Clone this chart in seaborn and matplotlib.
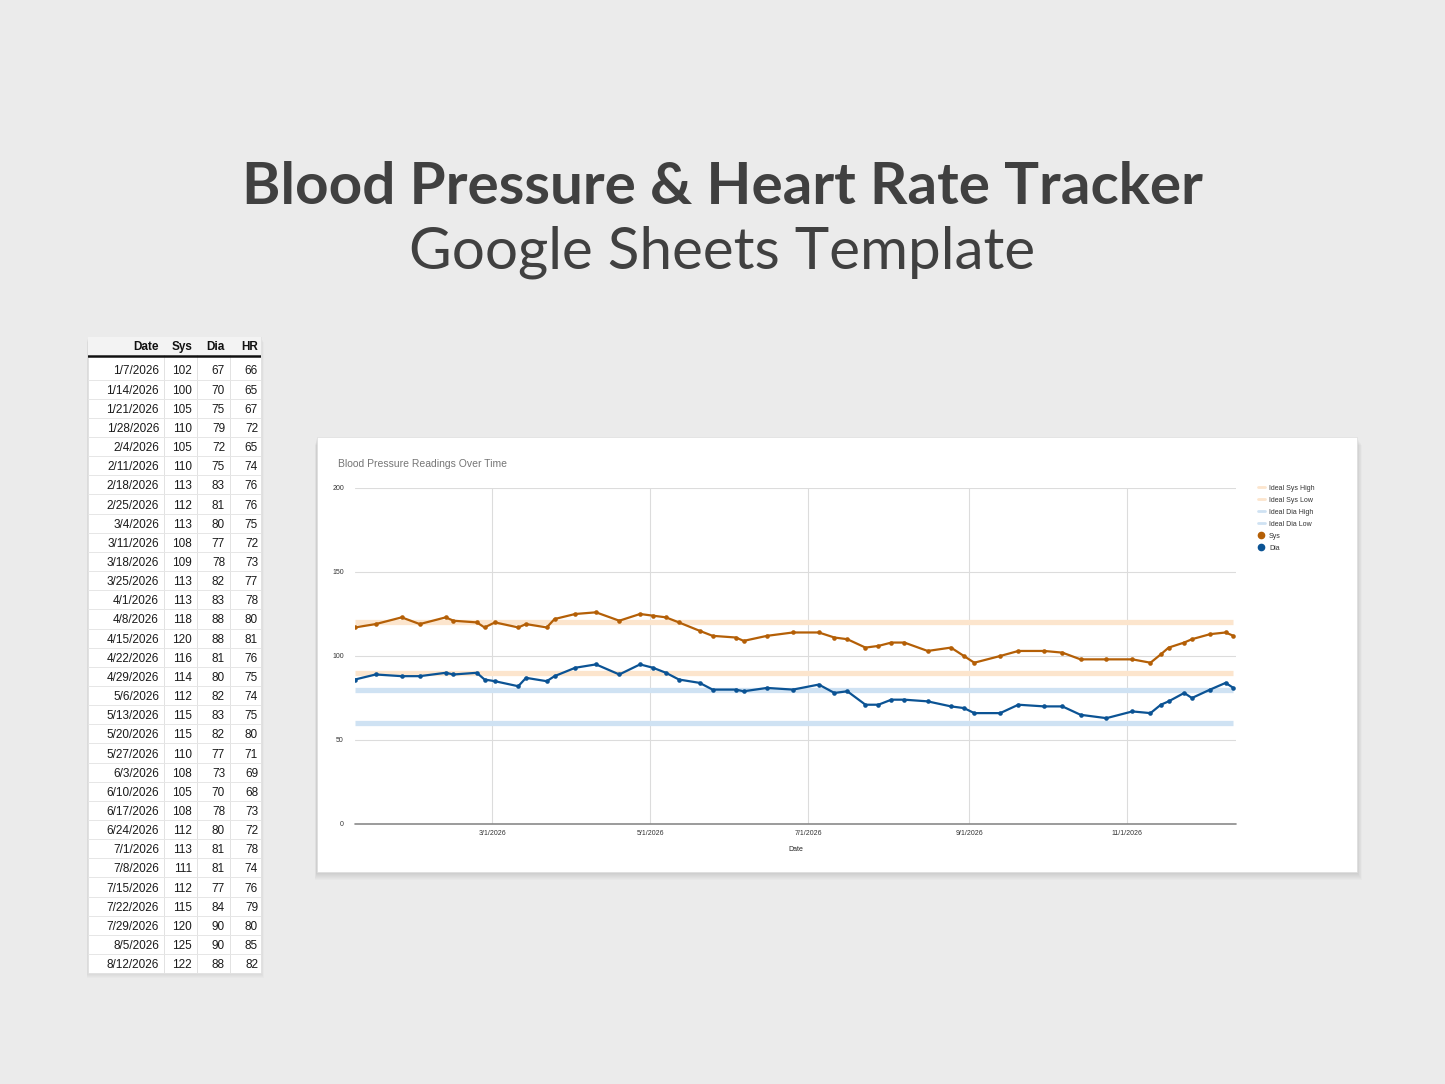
import numpy as np
import pandas as pd
import matplotlib
matplotlib.use("Agg")
import matplotlib.pyplot as plt
from matplotlib.patches import Rectangle
from matplotlib.lines import Line2D
import seaborn as sns

# chart readings
dates = ["2026-01-07", "2026-01-15", "2026-01-25", "2026-02-01", "2026-02-11", "2026-02-14",
         "2026-02-23", "2026-02-26", "2026-03-02", "2026-03-11", "2026-03-14", "2026-03-22",
         "2026-03-25", "2026-04-02", "2026-04-10", "2026-04-19", "2026-04-27", "2026-05-02",
         "2026-05-07", "2026-05-12", "2026-05-20", "2026-05-25", "2026-06-03", "2026-06-06",
         "2026-06-15", "2026-06-25", "2026-07-05", "2026-07-11", "2026-07-16", "2026-07-23",
         "2026-07-28", "2026-08-02", "2026-08-07", "2026-08-16", "2026-08-25", "2026-08-30",
         "2026-09-03", "2026-09-13", "2026-09-20", "2026-09-30", "2026-10-07", "2026-10-14",
         "2026-10-24", "2026-11-03", "2026-11-10", "2026-11-14", "2026-11-17", "2026-11-23",
         "2026-11-26", "2026-12-03", "2026-12-09", "2026-12-12"]
sys_vals = [117, 119, 123, 119, 123, 121, 120, 117, 120, 117, 119, 117,
            122, 125, 126, 121, 125, 124, 123, 120, 115, 112, 111, 109,
            112, 114, 114, 111, 110, 105, 106, 108, 108, 103, 105, 100,
            96, 100, 103, 103, 102, 98, 98, 98, 96, 101, 105, 108,
            110, 113, 114, 112]
dia_vals = [86, 89, 88, 88, 90, 89, 90, 86, 85, 82, 87, 85,
            88, 93, 95, 89, 95, 93, 90, 86, 84, 80, 80, 79,
            81, 80, 83, 78, 79, 71, 71, 74, 74, 73, 70, 69,
            66, 66, 71, 70, 70, 65, 63, 67, 66, 71, 73, 78,
            75, 80, 84, 81]
ideal_sys_high = 120
ideal_sys_low = 90
ideal_dia_high = 80
ideal_dia_low = 60

x_ticks = ["2026-03-01", "2026-05-01", "2026-07-01", "2026-09-01", "2026-11-01"]
x_tick_labels = ["3/1/2026", "5/1/2026", "7/1/2026", "9/1/2026", "11/1/2026"]
y_ticks = [0, 50, 100, 150, 200]

# spreadsheet table
tbl_dates = ["1/7/2026", "1/14/2026", "1/21/2026", "1/28/2026", "2/4/2026", "2/11/2026",
             "2/18/2026", "2/25/2026", "3/4/2026", "3/11/2026", "3/18/2026", "3/25/2026",
             "4/1/2026", "4/8/2026", "4/15/2026", "4/22/2026", "4/29/2026", "5/6/2026",
             "5/13/2026", "5/20/2026", "5/27/2026", "6/3/2026", "6/10/2026", "6/17/2026",
             "6/24/2026", "7/1/2026", "7/8/2026", "7/15/2026", "7/22/2026", "7/29/2026",
             "8/5/2026", "8/12/2026"]
tbl_sys = [102, 100, 105, 110, 105, 110, 113, 112, 113, 108, 109, 113, 113, 118, 120, 116,
           114, 112, 115, 115, 110, 108, 105, 108, 112, 113, 111, 112, 115, 120, 125, 122]
tbl_dia = [67, 70, 75, 79, 72, 75, 83, 81, 80, 77, 78, 82, 83, 88, 88, 81,
           80, 82, 83, 82, 77, 73, 70, 78, 80, 81, 81, 77, 84, 90, 90, 88]
tbl_hr = [66, 65, 67, 72, 65, 74, 76, 76, 75, 72, 73, 77, 78, 80, 81, 76,
          75, 74, 75, 80, 71, 69, 68, 73, 72, 78, 74, 76, 79, 80, 85, 82]
tbl_header = ["Date", "Sys", "Dia", "HR"]

SYS_C = "#b45f06"
DIA_C = "#0b5394"
SYS_IDEAL_C = "#fce5cd"
DIA_IDEAL_C = "#cfe2f3"
BG = "#ebebeb"

W, H = 1445, 1084

sns.set_theme(style="white")
plt.rcParams["font.family"] = ["Liberation Sans", "DejaVu Sans"]

fig = plt.figure(figsize=(W / 100, H / 100), dpi=100, facecolor=BG)


def fx(x):
    return x / W


def fy(y):
    return 1 - y / H


def card(x0, y0, x1, y1, shadow=8):
    # soft shadow then white card, in pixel coords of the picture
    for k in range(shadow, 0, -1):
        fig.patches.append(Rectangle((fx(x0 - k * 0.3), fy(y1 + k)), fx(x1 - x0 + k * 0.9), (y1 - y0) / H,
                                     transform=fig.transFigure, facecolor="#000000",
                                     alpha=0.016, edgecolor="none", zorder=-3))
    fig.patches.append(Rectangle((fx(x0), fy(y1)), fx(x1 - x0), (y1 - y0) / H,
                                 transform=fig.transFigure, facecolor="white",
                                 edgecolor="#dddddd", linewidth=0.5, zorder=-2))


# headings
fig.text(0.5, fy(188), "Blood Pressure & Heart Rate Tracker", ha="center", va="center",
         fontsize=42, fontweight="bold", color="#404040", family=["Lato", "DejaVu Sans"])
fig.text(0.5, fy(252), "Google Sheets Template", ha="center", va="center",
         fontsize=42, fontweight="normal", color="#404040", family=["Lato", "DejaVu Sans"])

# ---- chart card ----
card(317, 437, 1357, 872)

df = pd.DataFrame({"Date": pd.to_datetime(dates), "Sys": sys_vals, "Dia": dia_vals})
df["Ideal Sys High"] = ideal_sys_high
df["Ideal Sys Low"] = ideal_sys_low
df["Ideal Dia High"] = ideal_dia_high
df["Ideal Dia Low"] = ideal_dia_low

ax = fig.add_axes([fx(355), fy(824), fx(1236 - 355), (824 - 488) / H])
ax.patch.set_alpha(0)
for col, c in [("Ideal Sys High", SYS_IDEAL_C), ("Ideal Sys Low", SYS_IDEAL_C),
               ("Ideal Dia High", DIA_IDEAL_C), ("Ideal Dia Low", DIA_IDEAL_C)]:
    sns.lineplot(data=df, x="Date", y=col, ax=ax, color=c, linewidth=3.8, zorder=2,
                 solid_capstyle="butt")
sns.lineplot(data=df, x="Date", y="Sys", ax=ax, color=SYS_C, linewidth=1.6,
             marker="o", markersize=3.3, markeredgewidth=0, zorder=4)
sns.lineplot(data=df, x="Date", y="Dia", ax=ax, color=DIA_C, linewidth=1.6,
             marker="o", markersize=3.3, markeredgewidth=0, zorder=4)

ax.set_ylim(0, 200)
ax.set_xlim(pd.Timestamp("2026-01-07"), pd.Timestamp("2026-12-13"))
ax.set_yticks(y_ticks)
ax.set_xticks(pd.to_datetime(x_ticks))
ax.set_xticklabels(x_tick_labels)
ax.grid(True, color="#dcdcdc", linewidth=0.8, zorder=0)
ax.set_axisbelow(True)
for s in ax.spines.values():
    s.set_visible(False)
ax.axhline(0, color="#8a8a8a", linewidth=1.2, zorder=3, clip_on=False)
ax.tick_params(axis="both", length=0, labelsize=5, labelcolor="#333333", pad=4)
ax.tick_params(axis="y", pad=8)
ax.set_xlabel("Date", fontsize=5, color="#222222", labelpad=7)
ax.set_ylabel("")

fig.text(fx(338), fy(464), "Blood Pressure Readings Over Time", ha="left", va="center",
         fontsize=7.5, color="#757575")

handles = [Line2D([], [], color=SYS_IDEAL_C, linewidth=2),
           Line2D([], [], color=SYS_IDEAL_C, linewidth=2),
           Line2D([], [], color=DIA_IDEAL_C, linewidth=2),
           Line2D([], [], color=DIA_IDEAL_C, linewidth=2),
           Line2D([], [], color=SYS_C, linestyle="none", marker="o", markersize=4.5),
           Line2D([], [], color=DIA_C, linestyle="none", marker="o", markersize=4.5)]
labels = ["Ideal Sys High", "Ideal Sys Low", "Ideal Dia High", "Ideal Dia Low", "Sys", "Dia"]
fig.legend(handles, labels, loc="upper left", bbox_to_anchor=(fx(1255), fy(482)),
           bbox_transform=fig.transFigure, frameon=False, fontsize=5, labelcolor="#333333",
           handlelength=1.0, handletextpad=0.6, labelspacing=0.72, borderaxespad=0)

# ---- spreadsheet table ----
card(88, 337, 261, 973, shadow=5)
tx = fig.add_axes([fx(88), fy(973), fx(173), 636 / H])
tx.set_xlim(0, 173)
tx.set_ylim(636, 0)
tx.axis("off")
tx.add_patch(Rectangle((0, 0), 173, 18, facecolor="#f3f3f3", edgecolor="none"))
tx.axhline(18.5, color="#111111", linewidth=1.8)
col_right = [71, 104, 137, 170]
for x in [76, 109, 142]:
    tx.axvline(x, color="#e2e2e2", linewidth=0.7, zorder=0)
for j, h in enumerate(tbl_header):
    tx.text(col_right[j], 8.5, h, ha="right", va="center_baseline", fontsize=8.5,
            fontweight="bold", color="#111111")
row0, row_h = 33, 19.15
for i in range(len(tbl_dates)):
    y = row0 + i * row_h
    tx.axhline(y + row_h / 2, color="#e6e6e6", linewidth=0.7, zorder=0)
    for j, v in enumerate([tbl_dates[i], tbl_sys[i], tbl_dia[i], tbl_hr[i]]):
        tx.text(col_right[j], y, str(v), ha="right", va="center_baseline", fontsize=8.5,
                color="#1a1a1a")

fig.savefig("out.png", dpi=100, facecolor=BG)
plt.close(fig)
